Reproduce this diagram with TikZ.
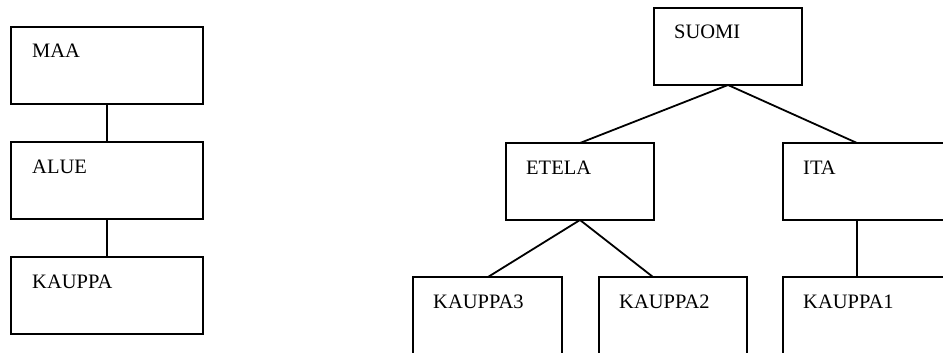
\documentclass[tikz,border=0pt]{standalone}
\usepackage{fontspec}
\setmainfont{Liberation Serif}
\usetikzlibrary{calc}
\begin{document}
\begin{tikzpicture}[x=1pt,y=-1pt,
  box/.style={draw, line width=1.8pt, rectangle, inner sep=0pt, outer sep=0pt, anchor=north west},
  lbl/.style={anchor=base west, inner sep=0pt, font=\fontsize{20.5}{24}\selectfont},
  conn/.style={line width=1.8pt}]
\useasboundingbox (0,0) rectangle (943,353);
\clip (0,0) rectangle (943,353);
% left chain
\node[box, minimum width=192pt, minimum height=77pt] (maa) at (11,27) {};
\node[box, minimum width=192pt, minimum height=77pt] (alue) at (11,142) {};
\node[box, minimum width=192pt, minimum height=77pt] (kauppa) at (11,257) {};
\node[lbl] (tmaa) at ($(maa.north west)+(21,31)$) {MAA};
\node[lbl] (talue) at ($(alue.north west)+(21,31)$) {ALUE};
\node[lbl] (tkauppa) at ($(kauppa.north west)+(21,31)$) {KAUPPA};
\draw[conn] (maa.south) -- (alue.north);
\draw[conn] (alue.south) -- (kauppa.north);
% right tree
\node[box, minimum width=148pt, minimum height=77pt] (suomi) at (654,8) {};
\node[box, minimum width=148pt, minimum height=77pt] (etela) at (506,143) {};
\node[box, minimum width=220pt, minimum height=77pt] (ita) at (783,143) {};
\node[box, minimum width=149pt, minimum height=120pt] (k3) at (413,277) {};
\node[box, minimum width=148pt, minimum height=120pt] (k2) at (599,277) {};
\node[box, minimum width=220pt, minimum height=120pt] (k1) at (783,277) {};
\node[lbl] (tsuomi) at ($(suomi.north west)+(20,31)$) {SUOMI};
\node[lbl] (tetela) at ($(etela.north west)+(20,31)$) {ETELA};
\node[lbl] (tita) at ($(ita.north west)+(20,31)$) {ITA};
\node[lbl] (tk3) at ($(k3.north west)+(20,31)$) {KAUPPA3};
\node[lbl] (tk2) at ($(k2.north west)+(20,31)$) {KAUPPA2};
\node[lbl] (tk1) at ($(k1.north west)+(20,31)$) {KAUPPA1};
\coordinate (itatop) at ($(ita.north west)+(74,0)$);
\coordinate (itabot) at ($(ita.south west)+(74,0)$);
\coordinate (k1top) at ($(k1.north west)+(74,0)$);
\coordinate (k3top) at ($(k3.north west)+(75,0)$);
\coordinate (k2top) at ($(k2.north west)+(54,0)$);
\draw[conn] (suomi.south) -- (etela.north);
\draw[conn] (suomi.south) -- (itatop);
\draw[conn] (etela.south) -- (k3top);
\draw[conn] (etela.south) -- (k2top);
\draw[conn] (itabot) -- (k1top);
\end{tikzpicture}
\end{document}
